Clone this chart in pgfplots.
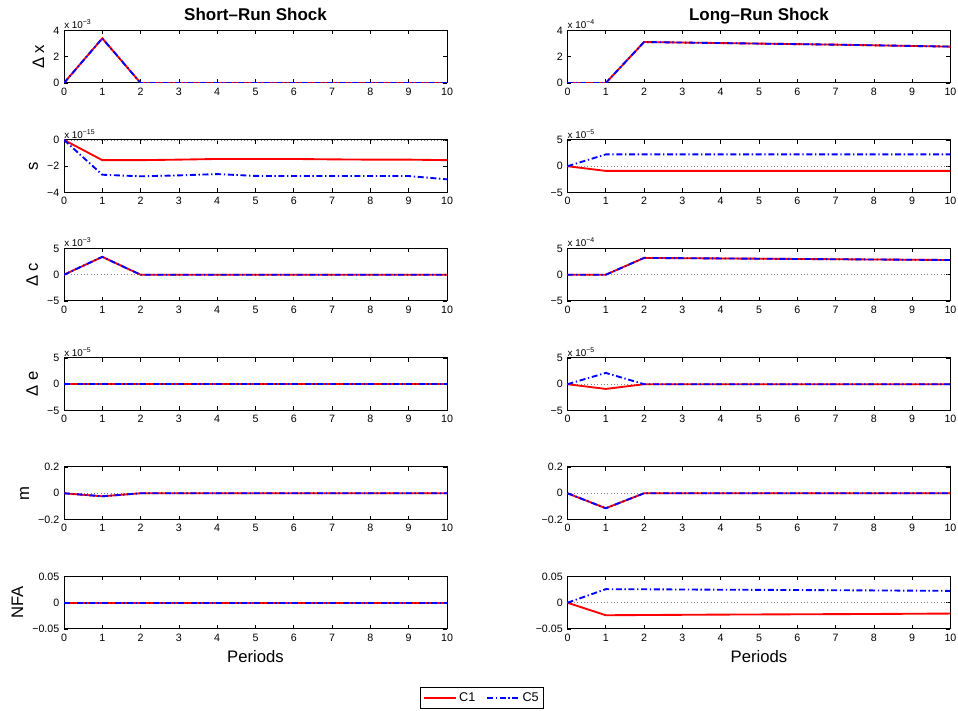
\documentclass[border=0pt]{standalone}
\usepackage{pgfplots}
\pgfplotsset{compat=1.18}
\usepackage{fontspec}
\setmainfont{Liberation Sans}
\pgfplotsset{
  panel/.style={
    anchor=south west, scale only axis, width=287.25pt, height=39.4pt,
    xmin=0, xmax=10, xtick={0,1,...,10},
    clip mode=individual, scaled y ticks=false, scaled x ticks=false,
    tick align=inside, major tick length=3pt,
    axis line style={line width=0.75pt},
    every tick/.style={black, line width=0.5pt},
    tick label style={font=\fontsize{8}{9}\selectfont},
    label style={font=\fontsize{12.5}{14}\selectfont},
    title style={font=\fontsize{12.75}{14}\selectfont\bfseries, at={(0.5,1)}, anchor=base, yshift=1.5pt},
    /pgf/number format/assume math mode=true,
  },
  c1/.style={red, line width=1.4pt},
  c5/.style={blue, line width=1.4pt, dash pattern=on 4.5pt off 2pt on 1pt off 2pt},
  zl/.style={gray, dotted, line width=0.5pt, forget plot},
}
\newcommand{\scl}[1]{\node[anchor=base west, inner sep=0pt, yshift=1.3pt, font=\fontsize{7.4}{8}\selectfont] at (rel axis cs:0,1) {x 10\raisebox{0.8ex}{\fontsize{5.2}{5}\selectfont #1}};}
\begin{document}
\begin{tikzpicture}
\path[use as bounding box] (0,0) rectangle (718.5pt,533.25pt);
% ---------- Row 1 ----------
\begin{axis}[panel, at={(48pt,471pt)}, ymin=0, ymax=4, ytick={0,2,4},
  ylabel={Δ x}, title={Short–Run Shock}]
\addplot[zl] coordinates {(0,0)(10,0)};
\addplot[c1] coordinates {(0,0)(1,3.4)(2,0)(3,0)(4,0)(5,0)(6,0)(7,0)(8,0)(9,0)(10,0)};
\addplot[c5] coordinates {(0,0)(1,3.4)(2,0)(3,0)(4,0)(5,0)(6,0)(7,0)(8,0)(9,0)(10,0)};
\scl{−3}
\end{axis}
\begin{axis}[panel, at={(425.6pt,471pt)}, ymin=0, ymax=4, ytick={0,2,4},
  title={Long–Run Shock}]
\addplot[zl] coordinates {(0,0)(10,0)};
\addplot[c1] coordinates {(0,0)(1,0)(2,3.12)(3,3.08)(4,3.04)(5,3.0)(6,2.96)(7,2.92)(8,2.87)(9,2.82)(10,2.77)};
\addplot[c5] coordinates {(0,0)(1,0)(2,3.12)(3,3.08)(4,3.04)(5,3.0)(6,2.96)(7,2.92)(8,2.87)(9,2.82)(10,2.77)};
\scl{−4}
\end{axis}
% ---------- Row 2 ----------
\begin{axis}[panel, at={(48pt,388.9pt)}, ymin=-4, ymax=0, ytick={-4,-2,0},
  yticklabels={−4,−2,0}, ylabel={s}]
\addplot[zl] coordinates {(0,0)(10,0)};
\addplot[c1] coordinates {(0,0)(1,-1.54)(2,-1.54)(3,-1.5)(4,-1.45)(5,-1.45)(6,-1.45)(7,-1.48)(8,-1.5)(9,-1.5)(10,-1.54)};
\addplot[c5] coordinates {(0,0)(1,-2.65)(2,-2.77)(3,-2.7)(4,-2.6)(5,-2.74)(6,-2.75)(7,-2.75)(8,-2.75)(9,-2.75)(10,-3.0)};
\scl{−15}
\end{axis}
\begin{axis}[panel, at={(425.6pt,388.9pt)}, ymin=-5, ymax=5, ytick={-5,0,5},
  yticklabels={−5,0,5}]
\addplot[zl] coordinates {(0,0)(10,0)};
\addplot[c1] coordinates {(0,0)(1,-0.9)(2,-0.9)(3,-0.9)(4,-0.9)(5,-0.9)(6,-0.9)(7,-0.9)(8,-0.9)(9,-0.9)(10,-0.9)};
\addplot[c5] coordinates {(0,0)(1,2.24)(2,2.24)(3,2.24)(4,2.24)(5,2.24)(6,2.24)(7,2.24)(8,2.24)(9,2.24)(10,2.24)};
\scl{−5}
\end{axis}
% ---------- Row 3 ----------
\begin{axis}[panel, at={(48pt,307.5pt)}, ymin=-5, ymax=5, ytick={-5,0,5},
  yticklabels={−5,0,5}, ylabel={Δ c}]
\addplot[zl] coordinates {(0,0)(10,0)};
\addplot[c1] coordinates {(0,0)(1,3.4)(2,0)(3,0)(4,0)(5,0)(6,0)(7,0)(8,0)(9,0)(10,0)};
\addplot[c5] coordinates {(0,0)(1,3.4)(2,0)(3,0)(4,0)(5,0)(6,0)(7,0)(8,0)(9,0)(10,0)};
\scl{−3}
\end{axis}
\begin{axis}[panel, at={(425.6pt,307.5pt)}, ymin=-5, ymax=5, ytick={-5,0,5},
  yticklabels={−5,0,5}]
\addplot[zl] coordinates {(0,0)(10,0)};
\addplot[c1] coordinates {(0,0)(1,0)(2,3.2)(3,3.15)(4,3.1)(5,3.05)(6,3.0)(7,2.95)(8,2.9)(9,2.85)(10,2.8)};
\addplot[c5] coordinates {(0,0)(1,0)(2,3.2)(3,3.15)(4,3.1)(5,3.05)(6,3.0)(7,2.95)(8,2.9)(9,2.85)(10,2.8)};
\scl{−4}
\end{axis}
% ---------- Row 4 ----------
\begin{axis}[panel, at={(48pt,225.4pt)}, ymin=-5, ymax=5, ytick={-5,0,5},
  yticklabels={−5,0,5}, ylabel={Δ e}]
\addplot[zl] coordinates {(0,0)(10,0)};
\addplot[c1] coordinates {(0,0)(1,0)(2,0)(3,0)(4,0)(5,0)(6,0)(7,0)(8,0)(9,0)(10,0)};
\addplot[c5] coordinates {(0,0)(1,0)(2,0)(3,0)(4,0)(5,0)(6,0)(7,0)(8,0)(9,0)(10,0)};
\scl{−5}
\end{axis}
\begin{axis}[panel, at={(425.6pt,225.4pt)}, ymin=-5, ymax=5, ytick={-5,0,5},
  yticklabels={−5,0,5}]
\addplot[zl] coordinates {(0,0)(10,0)};
\addplot[c1] coordinates {(0,0)(1,-0.9)(2,0)(3,0)(4,0)(5,0)(6,0)(7,0)(8,0)(9,0)(10,0)};
\addplot[c5] coordinates {(0,0)(1,2.15)(2,0)(3,0)(4,0)(5,0)(6,0)(7,0)(8,0)(9,0)(10,0)};
\scl{−5}
\end{axis}
% ---------- Row 5 ----------
\begin{axis}[panel, at={(48pt,143.6pt)}, ymin=-0.2, ymax=0.2, ytick={-0.2,0,0.2},
  yticklabels={−0.2,0,0.2}, ylabel={m}]
\addplot[zl] coordinates {(0,0)(10,0)};
\addplot[c1] coordinates {(0,0)(1,-0.023)(2,0)(3,0)(4,0)(5,0)(6,0)(7,0)(8,0)(9,0)(10,0)};
\addplot[c5] coordinates {(0,0)(1,-0.023)(2,0)(3,0)(4,0)(5,0)(6,0)(7,0)(8,0)(9,0)(10,0)};
\end{axis}
\begin{axis}[panel, at={(425.6pt,143.6pt)}, ymin=-0.2, ymax=0.2, ytick={-0.2,0,0.2},
  yticklabels={−0.2,0,0.2}]
\addplot[zl] coordinates {(0,0)(10,0)};
\addplot[c1] coordinates {(0,0)(1,-0.114)(2,0)(3,0)(4,0)(5,0)(6,0)(7,0)(8,0)(9,0)(10,0)};
\addplot[c5] coordinates {(0,0)(1,-0.114)(2,0)(3,0)(4,0)(5,0)(6,0)(7,0)(8,0)(9,0)(10,0)};
\end{axis}
% ---------- Row 6 ----------
\begin{axis}[panel, at={(48pt,61.5pt)}, ymin=-0.05, ymax=0.05, ytick={-0.05,0,0.05},
  yticklabels={−0.05,0,0.05}, ylabel={NFA}, xlabel={Periods},
  legend columns=2,
  legend style={at={(1.0914,-1.314)}, anchor=center, draw=black, line width=0.75pt,
    font=\fontsize{9.5}{10}\selectfont, inner sep=1.5pt,
    /tikz/every even column/.append style={column sep=6pt}},
  legend image code/.code={\draw[#1] (0pt,0pt) -- (24pt,0pt);}]
\addplot[zl] coordinates {(0,0)(10,0)};
\addplot[c1] coordinates {(0,0)(1,0)(2,0)(3,0)(4,0)(5,0)(6,0)(7,0)(8,0)(9,0)(10,0)};
\addplot[c5] coordinates {(0,0)(1,0)(2,0)(3,0)(4,0)(5,0)(6,0)(7,0)(8,0)(9,0)(10,0)};
\legend{C1,C5}
\end{axis}
\begin{axis}[panel, at={(425.6pt,61.5pt)}, ymin=-0.05, ymax=0.05, ytick={-0.05,0,0.05},
  yticklabels={−0.05,0,0.05}, xlabel={Periods}]
\addplot[zl] coordinates {(0,0)(10,0)};
\addplot[c1] coordinates {(0,0)(1,-0.0238)(2,-0.0234)(3,-0.023)(4,-0.0226)(5,-0.0223)(6,-0.022)(7,-0.0217)(8,-0.0214)(9,-0.021)(10,-0.0206)};
\addplot[c5] coordinates {(0,0)(1,0.0258)(2,0.0256)(3,0.0252)(4,0.0248)(5,0.0245)(6,0.0242)(7,0.0238)(8,0.0234)(9,0.023)(10,0.0226)};
\end{axis}
\end{tikzpicture}
\end{document}
